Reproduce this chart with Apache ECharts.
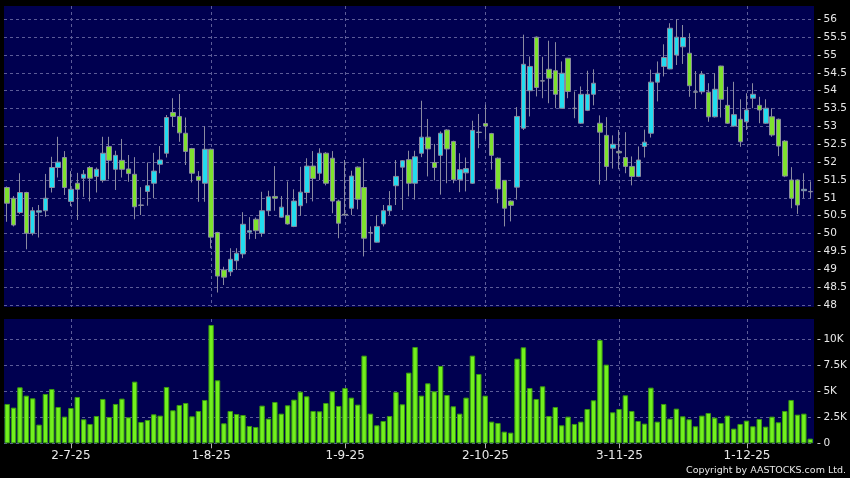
<!DOCTYPE html>
<html><head><meta charset="utf-8">
<script src="https://cdn.jsdelivr.net/npm/echarts@6/dist/echarts.min.js"></script>
<style>html,body{margin:0;padding:0;background:#000;}#c{width:850px;height:478px;}</style>
</head><body><div id="c"></div>
<script>
const dates = [
"17-6-25","18-6-25","19-6-25","20-6-25","23-6-25","24-6-25","25-6-25","26-6-25","27-6-25","30-6-25",
"2-7-25","3-7-25","4-7-25","7-7-25","8-7-25","9-7-25","10-7-25","11-7-25","14-7-25","15-7-25","16-7-25","17-7-25","18-7-25","21-7-25","22-7-25","23-7-25","24-7-25","25-7-25","28-7-25","29-7-25","30-7-25","31-7-25",
"1-8-25","4-8-25","5-8-25","6-8-25","7-8-25","8-8-25","11-8-25","12-8-25","13-8-25","14-8-25","15-8-25","18-8-25","19-8-25","20-8-25","21-8-25","22-8-25","25-8-25","26-8-25","27-8-25","28-8-25","29-8-25",
"1-9-25","2-9-25","3-9-25","4-9-25","5-9-25","8-9-25","9-9-25","10-9-25","11-9-25","12-9-25","15-9-25","16-9-25","17-9-25","18-9-25","19-9-25","22-9-25","23-9-25","24-9-25","25-9-25","26-9-25","29-9-25","30-9-25",
"2-10-25","3-10-25","6-10-25","8-10-25","9-10-25","10-10-25","13-10-25","14-10-25","15-10-25","16-10-25","17-10-25","20-10-25","21-10-25","22-10-25","23-10-25","24-10-25","27-10-25","28-10-25","29-10-25","30-10-25","31-10-25",
"3-11-25","4-11-25","5-11-25","6-11-25","7-11-25","10-11-25","11-11-25","12-11-25","13-11-25","14-11-25","17-11-25","18-11-25","19-11-25","20-11-25","21-11-25","24-11-25","25-11-25","26-11-25","27-11-25","28-11-25",
"1-12-25","2-12-25","3-12-25","4-12-25","5-12-25","8-12-25","9-12-25","10-12-25","11-12-25","12-12-25","15-12-25"
];
const labelDates = ["2-7-25","1-8-25","1-9-25","2-10-25","3-11-25","1-12-25"];

const open = [
51.29,50.99,50.59,51.15,50.01,50.60,50.64,51.29,51.85,52.13,
50.90,51.41,51.55,51.85,51.60,51.49,52.44,51.80,52.05,51.81,
51.66,50.80,51.18,51.41,51.94,52.25,53.39,53.28,52.81,52.38,
51.60,51.41,52.36,50.03,48.98,48.93,49.24,49.43,50.04,50.40,
50.01,50.64,51.04,50.46,50.51,50.20,50.78,51.15,51.89,51.69,
52.25,52.11,50.91,50.54,50.71,51.86,51.29,50.03,49.76,50.27,
50.64,51.34,51.86,52.07,51.41,52.25,52.70,51.99,52.19,52.90,
52.58,51.51,51.70,51.41,52.84,53.08,52.80,52.11,51.49,50.91,
51.30,52.95,54.00,55.50,54.28,54.60,54.56,53.51,54.91,53.51,
53.09,53.45,53.90,53.09,52.75,52.39,52.30,52.13,51.88,51.60,
52.44,52.81,54.24,54.68,54.61,55.00,55.23,55.05,53.97,53.97,
53.96,53.27,54.69,53.59,53.01,53.20,53.13,53.79,53.59,53.09,
53.27,53.20,52.59,51.50,51.50,51.20,51.18
];
const close = [
50.85,50.24,51.15,50.01,50.64,50.64,50.99,51.85,52.00,51.29,
51.24,51.24,51.66,51.55,51.80,52.25,52.05,52.19,51.80,51.68,
50.75,50.79,51.34,51.75,52.06,53.25,53.28,52.82,52.30,51.69,
51.49,52.36,49.90,48.81,48.78,49.28,49.45,50.26,50.08,50.08,
50.64,51.03,50.99,50.74,50.27,50.91,51.16,51.89,51.54,52.25,
51.41,50.91,50.29,50.52,51.61,50.96,49.87,50.02,50.20,50.64,
50.78,51.60,52.04,51.41,52.15,52.70,52.37,51.85,52.81,52.37,
51.51,51.79,51.82,52.89,52.83,53.01,52.19,51.25,50.71,50.79,
53.28,54.74,54.68,54.09,54.27,54.35,53.90,54.49,53.98,53.50,
53.90,53.90,54.21,52.84,51.88,52.50,52.26,51.88,51.60,52.06,
52.56,54.24,54.49,54.93,55.75,55.50,55.49,54.14,53.96,54.46,
53.27,54.04,53.76,53.09,53.33,52.57,53.46,53.90,53.46,53.51,
52.76,52.45,51.61,50.99,50.80,51.24,51.17
];
const low = [
50.33,50.20,50.55,49.56,49.95,49.89,50.47,51.15,51.57,51.08,
50.77,50.38,51.03,50.90,51.15,51.43,51.52,51.22,51.57,51.45,
50.40,50.52,50.78,50.99,51.69,52.13,52.99,52.57,51.92,51.43,
50.89,50.89,49.59,48.35,48.56,48.81,48.98,49.31,49.84,49.85,
49.91,50.49,50.64,50.44,50.25,50.18,50.50,50.85,50.90,51.50,
51.35,50.57,49.87,50.50,50.52,50.68,49.36,49.54,49.75,50.20,
50.52,50.80,50.66,51.04,50.95,52.14,51.60,51.49,51.09,51.41,
51.41,51.16,51.18,51.39,52.39,52.65,51.79,50.85,50.20,50.34,
50.95,52.90,53.28,53.84,53.79,53.65,53.51,53.50,53.79,53.23,
53.07,53.43,53.59,51.37,51.49,51.82,51.80,51.69,51.35,51.58,
52.13,52.69,53.70,54.40,54.60,54.72,54.75,53.83,53.49,53.90,
53.13,53.25,53.25,53.07,52.99,52.43,52.90,53.51,53.09,53.07,
52.71,52.17,51.58,50.71,50.55,50.99,50.99
];
const high = [
51.32,51.05,51.69,51.17,50.74,50.80,51.67,52.15,52.71,52.31,
51.75,51.70,51.78,51.89,51.85,52.71,52.71,52.32,52.65,52.20,
52.14,51.30,51.99,52.26,52.45,53.32,53.79,53.91,53.25,52.40,
51.75,53.01,52.38,50.05,49.07,49.59,49.59,50.60,50.46,50.45,
51.17,51.20,51.89,51.05,51.46,51.24,51.87,52.11,52.31,52.39,
52.28,52.31,50.95,52.06,51.76,51.88,52.11,50.20,50.52,50.80,
51.19,52.06,52.06,52.32,52.32,53.72,53.21,52.51,52.86,52.92,
52.60,52.25,52.13,53.16,53.35,53.61,52.82,52.13,51.50,50.93,
53.54,55.57,54.96,55.52,54.95,55.40,55.36,54.82,54.92,53.98,
54.12,54.56,54.60,53.31,53.26,52.75,52.90,52.84,52.16,52.44,
52.91,54.59,54.82,55.30,55.89,56.00,55.84,55.61,54.55,54.55,
54.21,54.49,54.70,54.11,54.25,53.76,53.93,54.21,53.83,53.76,
53.51,53.22,52.62,51.86,51.52,51.69,51.46
];
const volume = [
3782,3430,5385,4583,4327,1795,4743,5224,3493,2564,
3397,4455,2308,1859,2628,4263,2532,3782,4295,2500,
5929,2051,2244,2788,2660,5417,3173,3686,3878,2596,
3109,4167,11378,6058,1923,3109,2820,2724,1667,1570,
3622,2372,3974,2852,3654,4199,4968,4519,3109,3077,
3878,5000,3590,5320,4391,3718,8429,2852,1731,2147,
2628,4936,3750,6795,9262,4583,5769,5000,7436,4647,
3558,2852,4391,8429,6666,4583,2083,1955,1122,1026,
8141,9230,5320,4263,5481,2628,3493,1731,2564,1859,
2083,3301,4135,9936,7564,2981,3301,4615,3109,2147,
1891,5352,2083,3782,2372,3333,2596,2308,1635,2660,
2917,2468,1955,2660,1410,1859,2179,1635,2340,1603,
2564,2019,3109,4167,2756,2852,449
];
const priceMin = 48, priceMax = 56, priceStep = 0.5;
const volMin = 0, volMax = 10000, volStep = 2500;

const candles = dates.map((d, i) => [open[i], close[i], low[i], high[i]]);
const showSet = new Set(labelDates.map(d => dates.indexOf(d)));
const sel = (i) => showSet.has(i);

const L = 4, R = 36;
const NAVY = '#000050';
const GRIDC = '#5c5c98';
const TXT = '#e8e8e8';
const FONT = "'DejaVu Sans',Verdana,sans-serif";
const dash = {color: GRIDC, type: [3, 3], width: 1};

const chart = echarts.init(document.getElementById('c'), null, {renderer: 'canvas'});
chart.setOption({
  backgroundColor: '#000',
  animation: false,
  grid: [
    {left: L, right: R, top: 19.3, height: 285.7},
    {left: L, right: R, top: 339.3, height: 104},
    {left: L, right: R, top: 6, height: 301, show: true, backgroundColor: NAVY, borderWidth: 0, z: -1},
    {left: L, right: R, top: 319, height: 124.3, show: true, backgroundColor: NAVY, borderWidth: 0, z: -1}
  ],
  xAxis: [
    {type: 'category', gridIndex: 0, data: dates, show: false},
    {type: 'category', gridIndex: 1, data: dates, show: false},
    {type: 'category', gridIndex: 2, data: dates, axisLine: {show: false}, axisTick: {show: false},
     axisLabel: {show: false},
     splitLine: {show: true, interval: sel, alignWithLabel: true, lineStyle: dash}},
    {type: 'category', gridIndex: 3, data: dates, axisLine: {show: false},
     axisTick: {show: true, interval: sel, alignWithLabel: true, length: 5, lineStyle: {color: '#b0b0b0'}},
     axisLabel: {interval: sel, margin: 7, color: TXT, fontSize: 12, fontFamily: FONT},
     splitLine: {show: true, interval: sel, alignWithLabel: true, lineStyle: dash}}
  ],
  yAxis: [
    {type: 'value', gridIndex: 0, position: 'right', min: priceMin, max: priceMax, interval: priceStep, offset: 4,
     axisLine: {show: false}, axisTick: {show: true, length: 3, lineStyle: {color: '#c8c8c8'}},
     axisLabel: {margin: 6, color: TXT, fontSize: 10.5, fontFamily: FONT},
     splitLine: {show: true, lineStyle: dash}},
    {type: 'value', gridIndex: 1, position: 'right', min: volMin, max: volMax, interval: volStep, offset: 4,
     axisLine: {show: false}, axisTick: {show: true, length: 3, lineStyle: {color: '#c8c8c8'}},
     axisLabel: {margin: 6, color: TXT, fontSize: 10.5, fontFamily: FONT,
       formatter: v => v === 0 ? '0' : (v / 1000) + 'K'},
     splitLine: {show: true, lineStyle: dash}},
    {type: 'value', gridIndex: 2, min: 0, max: 1, show: false, splitLine: {show: false}},
    {type: 'value', gridIndex: 3, min: 0, max: 1, show: false, splitLine: {show: false}}
  ],
  series: [
    {type: 'candlestick', xAxisIndex: 0, yAxisIndex: 0, data: candles, barWidth: 5, clip: false,
     itemStyle: {color: '#22dcef', color0: '#7ee22e', borderColor: '#8a8aa0', borderColor0: '#8a8aa0',
       borderColorDoji: '#8a8aa0', borderWidth: 1}},
    {type: 'bar', xAxisIndex: 1, yAxisIndex: 1, data: volume, barWidth: 5.4, clip: false,
     itemStyle: {color: '#72f01e', borderColor: '#3a9a10', borderWidth: 1}}
  ],
  graphic: [
    {type: 'text', right: 4, top: 466,
     style: {text: 'Copyright by AASTOCKS.com Ltd.', fill: TXT, font: "9.5px 'DejaVu Sans',Verdana,sans-serif"}}
  ]
});
</script>
</body></html>
